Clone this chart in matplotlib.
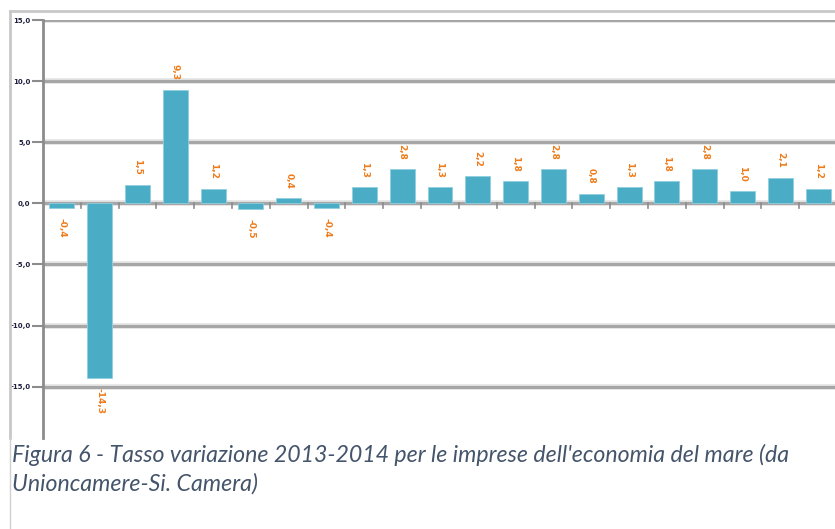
import numpy as np
import matplotlib.pyplot as plt
from matplotlib.lines import Line2D

# Tasso di variazione 2013-2014 per settore (valori %)
valori = [-0.4, -14.3, 1.5, 9.3, 1.2, -0.5, 0.4, -0.4, 1.3, 2.8, 1.3,
          2.2, 1.8, 2.8, 0.8, 1.3, 1.8, 2.8, 1.0, 2.1, 1.2]
tick_y = [15, 10, 5, 0, -5, -10, -15]

W, H = 835, 529
fig = plt.figure(figsize=(W / 100, H / 100), dpi=100)

def fx(px):
    return px / W

def fy(py):
    return 1 - py / H

def fmt(v):
    return f"{v:.1f}".replace('.', ',')

# area del grafico (la parte destra esce dal bordo)
ax = fig.add_axes([fx(43), fy(438), fx(794), (438 - 20) / H])
x = np.arange(len(valori))
ax.bar(x, valori, width=0.66, color='#4bacc6', edgecolor='#8fd0e0', linewidth=0.6, zorder=3)

ax.set_xlim(-0.5, len(valori) - 0.5)
ax.set_ylim(-19.2, 15)

# griglia orizzontale
for v in tick_y:
    ax.axhline(v, color='#a6a6a6', lw=2.2, zorder=1)
    ax.axhline(v, color='#e2e2e2', lw=4.0, zorder=0)

# tacche sull'asse delle categorie
for b in np.arange(0.5, len(valori) - 0.5, 1.0):
    ax.plot([b, b], [0, -0.35], color='#8c8c8c', lw=1.2, zorder=2, clip_on=False)

ax.set_yticks(tick_y)
ax.set_yticklabels([fmt(v) for v in tick_y], fontsize=5, fontweight='bold',
                   color='#1f1f3f', family=['Liberation Sans Narrow', 'DejaVu Sans'])
ax.tick_params(axis='y', length=8, width=1.5, color='#8c8c8c', pad=1)
ax.set_xticks([])
for s in ['top', 'right', 'bottom']:
    ax.spines[s].set_visible(False)
ax.spines['left'].set_color('#8c8c8c')
ax.spines['left'].set_linewidth(2)

# etichette dei valori, ruotate
for xi, v in zip(x, valori):
    off = 7 if v >= 0 else -7
    ax.annotate(fmt(v), (xi, v), xytext=(0, off), textcoords='offset points',
                rotation=-90, ha='center', va='bottom' if v >= 0 else 'top',
                fontsize=6.5, fontweight='bold', color='#ef7b1a', zorder=4)

# cornice esterna del grafico
fig.add_artist(Line2D([fx(10), 1], [fy(11), fy(11)], color='#c8c8c8', lw=2))
fig.add_artist(Line2D([fx(10), fx(10)], [fy(11), fy(438)], color='#c8c8c8', lw=2))
fig.add_artist(Line2D([fx(10), fx(10)], [fy(438), 0], color='#d0d0d0', lw=1))

# didascalia
cap_kw = dict(fontsize=16.7, style='italic', color='#44546a', family='Lato',
              ha='left', va='center')
fig.text(fx(12), fy(455), "Figura 6 - Tasso variazione 2013-2014 per le imprese dell'economia del mare (da", **cap_kw)
fig.text(fx(12), fy(484), "Unioncamere-Si. Camera)", **cap_kw)

fig.savefig('out.png', dpi=100)
